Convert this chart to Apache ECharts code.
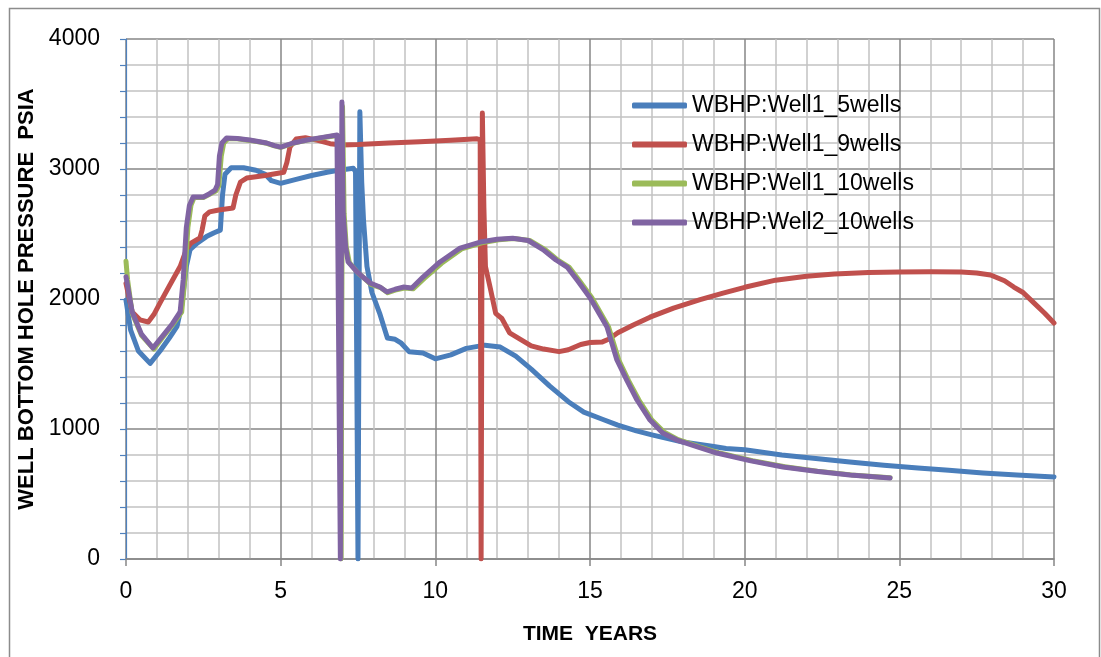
<!DOCTYPE html>
<html>
<head>
<meta charset="utf-8">
<title>Well Bottom Hole Pressure</title>
<script src="https://cdn.jsdelivr.net/npm/echarts@6/dist/echarts.min.js"></script>
<style>
  html, body { margin: 0; padding: 0; background: #ffffff; }
  #chart { width: 1101px; height: 657px; }
</style>
</head>
<body>
<div id="chart"></div>
<script>
// Series names
const seriesNames = ['WBHP:Well1_5wells', 'WBHP:Well1_9wells', 'WBHP:Well1_10wells', 'WBHP:Well2_10wells'];

// Well1, 5-well case: time (years) and bottom hole pressure (psia)
const well1_5_t = [0, 0.15, 0.4, 0.78, 1.1, 1.4, 1.65, 1.8, 1.95, 2.07, 2.3, 2.6, 2.85, 3.05, 3.12, 3.2, 3.4, 3.8, 4.2, 4.5, 4.7, 5.0, 5.5, 6.0, 6.5, 7.0, 7.35, 7.42, 7.5, 7.56, 7.62, 7.68, 7.79, 7.95, 8.2, 8.45, 8.7, 8.9, 9.15, 9.6, 10.0, 10.5, 11.0, 11.6, 12.1, 12.6, 13.1, 13.7, 14.3, 14.8, 15.4, 15.9, 16.5, 17.0, 18.0, 19.0, 19.4, 19.45, 20.0, 21.2, 22.3, 23.4, 24.5, 25.6, 26.6, 27.7, 28.8, 30.0];
const well1_5_p = [1990, 1760, 1600, 1505, 1600, 1700, 1790, 1950, 2250, 2380, 2430, 2480, 2510, 2530, 2800, 2960, 3010, 3010, 2990, 2960, 2910, 2890, 2920, 2950, 2975, 2995, 3005, 2980, 0, 3440, 2900, 2600, 2250, 2050, 1890, 1700, 1690, 1660, 1595, 1585, 1540, 1570, 1620, 1645, 1630, 1560, 1460, 1330, 1210, 1130, 1075, 1030, 985, 955, 900, 865, 850, 862, 840, 800, 773, 746, 722, 700, 682, 662, 646, 631];

// Well1, 9-well case
const well1_9_t = [0, 0.2, 0.45, 0.72, 0.9, 1.1, 1.4, 1.75, 1.95, 2.1, 2.39, 2.46, 2.55, 2.7, 3.0, 3.46, 3.55, 3.7, 3.9, 4.5, 5.1, 5.2, 5.3, 5.5, 5.8, 6.2, 6.6, 7.0, 7.5, 8.5, 9.5, 10.5, 11.35, 11.45, 11.48, 11.52, 11.57, 11.62, 11.77, 11.95, 12.15, 12.4, 12.75, 13.1, 13.5, 14.0, 14.3, 14.7, 15.0, 15.4, 15.6, 15.9, 16.4, 16.94, 17.7, 18.56, 19.3, 20.0, 21.0, 22.0, 22.9, 24.0, 25.0, 26.0, 27.0, 27.5, 27.95, 28.4, 28.7, 29.0, 29.35, 29.7, 30.0];
const well1_9_p = [2120, 1900, 1840, 1823, 1880, 1970, 2100, 2250, 2380, 2430, 2470, 2530, 2640, 2670, 2685, 2700, 2800, 2900, 2930, 2950, 2975, 3050, 3170, 3230, 3240, 3220, 3195, 3185, 3188, 3200, 3210, 3222, 3232, 3225, 0, 3430, 2700, 2250, 2090, 1890, 1850, 1740, 1690, 1640, 1615, 1595, 1610, 1650, 1665, 1670, 1690, 1740, 1800, 1860, 1930, 1995, 2045, 2090, 2145, 2175, 2192, 2203, 2208, 2210, 2208, 2200, 2185, 2140, 2092, 2050, 1970, 1890, 1815];

// Well1, 10-well case
const well1_10_t = [0, 0.05, 0.2, 0.5, 0.9, 1.2, 1.5, 1.8, 1.9, 2.0, 2.1, 2.2, 2.5, 2.7, 2.9, 3.0, 3.08, 3.16, 3.3, 3.6, 4.0, 4.55, 4.8, 5.0, 5.4, 5.85, 6.4, 6.82, 6.9, 6.95, 7.0, 7.05, 7.12, 7.22, 7.5, 7.7, 7.9, 8.25, 8.46, 8.7, 9.0, 9.28, 9.65, 10.2, 10.85, 11.5, 12.05, 12.55, 13.05, 13.55, 13.95, 14.32, 14.66, 15.06, 15.6, 15.93, 16.25, 16.58, 17.0, 17.4, 17.85, 18.55, 19.15, 20.25, 21.3, 22.35, 23.45, 24.7];
const well1_10_p = [2290, 2150, 1890, 1720, 1615, 1710, 1800, 1900, 2150, 2550, 2720, 2780, 2780, 2805, 2830, 2870, 3100, 3200, 3235, 3232, 3220, 3198, 3178, 3166, 3198, 3222, 3243, 3258, 3250, 0, 3480, 2660, 2400, 2280, 2200, 2160, 2115, 2085, 2048, 2068, 2085, 2078, 2160, 2275, 2385, 2432, 2455, 2465, 2450, 2380, 2300, 2246, 2140, 2010, 1785, 1531, 1370, 1223, 1069, 975, 918, 862, 818, 757, 710, 676, 647, 625];

// Well2, 10-well case
const well2_10_t = [0, 0.2, 0.5, 0.87, 1.2, 1.5, 1.75, 1.85, 1.95, 2.05, 2.17, 2.5, 2.7, 2.88, 2.96, 3.02, 3.1, 3.25, 3.6, 4.0, 4.55, 4.8, 5.0, 5.4, 5.85, 6.4, 6.82, 6.88, 6.93, 6.98, 7.02, 7.1, 7.18, 7.47, 7.66, 7.89, 8.21, 8.44, 8.7, 8.96, 9.24, 9.6, 10.15, 10.8, 11.45, 12.0, 12.5, 13.0, 13.48, 13.9, 14.26, 14.6, 15.0, 15.55, 15.87, 16.2, 16.52, 16.94, 17.35, 17.81, 18.5, 19.1, 20.2, 21.24, 22.3, 23.4, 24.7];
const well2_10_p = [2170, 1900, 1730, 1623, 1720, 1810, 1900, 2150, 2550, 2720, 2785, 2785, 2810, 2838, 2880, 3100, 3200, 3238, 3235, 3223, 3200, 3180, 3168, 3200, 3223, 3245, 3262, 3250, 0, 3515, 2660, 2400, 2285, 2208, 2169, 2123, 2092, 2054, 2075, 2092, 2085, 2169, 2285, 2392, 2438, 2460, 2468, 2450, 2380, 2300, 2246, 2140, 2010, 1785, 1531, 1370, 1223, 1069, 970, 915, 860, 815, 755, 708, 675, 646, 623];

const seriesColors = ['#4A7EBB', '#C0504D', '#9BBB59', '#8064A2'];

function pairs(ts, ps) {
  return ts.map((t, i) => [t, ps[i]]);
}

const seriesData = [
  pairs(well1_5_t, well1_5_p),
  pairs(well1_9_t, well1_9_p),
  pairs(well1_10_t, well1_10_p),
  pairs(well2_10_t, well2_10_p)
];

const FONT = '"Liberation Sans", Arial, sans-serif';
const MAJOR = '#868686';
const MINOR = '#c2c2c2';

const chart = echarts.init(document.getElementById('chart'), null, { renderer: 'canvas' });

chart.setOption({
  animation: false,
  backgroundColor: '#ffffff',
  graphic: [{
    type: 'rect',
    left: 7, top: 6,
    shape: { x: 0, y: 0, width: 1090, height: 660 },
    style: { fill: 'none', stroke: '#8c8c8c', lineWidth: 1.5 },
    silent: true,
    z: -10
  }],
  grid: { left: 126, top: 39, right: 47, bottom: 98, containLabel: false },
  legend: {
    orient: 'vertical',
    left: 632,
    top: 94,
    padding: 0,
    itemWidth: 55,
    itemHeight: 6,
    itemGap: 16,
    icon: 'roundRect',
    textStyle: { fontFamily: FONT, fontSize: 23, color: '#000', lineHeight: 23 },
    data: seriesNames
  },
  xAxis: {
    type: 'value',
    min: 0, max: 30, interval: 5,
    name: 'TIME  YEARS',
    nameLocation: 'middle',
    nameGap: 65,
    nameTextStyle: { fontFamily: FONT, fontSize: 21, fontWeight: 'bold', color: '#000' },
    axisLine: { show: true, lineStyle: { color: MAJOR, width: 1.5 } },
    axisTick: { show: true, length: 7, lineStyle: { color: MAJOR, width: 1.5 } },
    axisLabel: { fontFamily: FONT, fontSize: 23, color: '#000', margin: 21 },
    splitLine: { show: true, lineStyle: { color: MAJOR, width: 1.5 } },
    minorTick: { show: false, splitNumber: 5 },
    minorSplitLine: { show: true, lineStyle: { color: MINOR, width: 1.5 } }
  },
  yAxis: {
    type: 'value',
    min: 0, max: 4000, interval: 1000,
    name: 'WELL BOTTOM HOLE PRESSURE  PSIA',
    nameLocation: 'middle',
    nameGap: 82,
    nameRotate: 90,
    nameTextStyle: { fontFamily: FONT, fontSize: 22, fontWeight: 'bold', color: '#000' },
    axisLine: { show: true, lineStyle: { color: '#4F81BD', width: 1.2 } },
    axisTick: { show: true, length: 6, lineStyle: { color: '#4F81BD', width: 1.2 } },
    minorTick: { show: true, splitNumber: 5, length: 6, lineStyle: { color: '#4F81BD', width: 1.2 } },
    axisLabel: { fontFamily: FONT, fontSize: 23, color: '#000', margin: 26, formatter: (v) => String(v) },
    splitLine: { show: true, lineStyle: { color: MAJOR, width: 1.5 } },
    minorSplitLine: { show: true, lineStyle: { color: MINOR, width: 1.5 } }
  },
  series: seriesNames.map((name, i) => ({
    name: name,
    type: 'line',
    data: seriesData[i],
    showSymbol: false,
    symbol: 'none',
    smooth: false,
    lineStyle: { color: seriesColors[i], width: 5, cap: 'round', join: 'round' },
    itemStyle: { color: seriesColors[i] },
    z: 2 + i
  }))
});
</script>
</body>
</html>
